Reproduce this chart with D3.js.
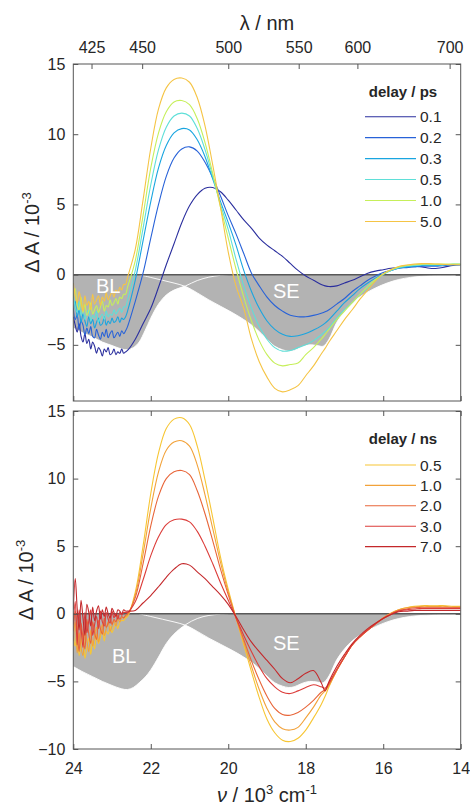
<!DOCTYPE html>
<html><head><meta charset="utf-8">
<script src="https://cdn.jsdelivr.net/npm/d3@7"></script>
<style>
body{margin:0;background:#fff}
svg{display:block}
text{font-family:"Liberation Sans",Arial,Helvetica,sans-serif;fill:#262626}
</style>
</head><body>
<svg id="c" width="470" height="807"></svg>
<script>
// wavenumber grid (10^3 cm^-1)
const nu = [24.00,23.95,23.90,23.85,23.80,23.75,23.70,23.65,23.60,23.55,23.50,23.45,23.40,23.35,23.30,23.25,23.20,23.15,23.10,23.05,23.00,22.95,22.90,22.85,22.80,22.75,22.70,22.65,
  22.6,22.4,22.2,22.0,21.8,21.6,21.4,21.2,21.0,20.8,20.6,20.4,20.2,20.0,19.8,19.6,19.4,19.2,19.0,18.8,18.6,18.4,18.2,18.0,
  17.8,17.6,17.5,17.4,17.2,
  17.0,16.8,16.6,16.4,16.2,16.0,15.8,15.6,15.4,15.2,15.0,14.8,14.6,14.4,14.2,14.0];

// top panel: delay / ps
const ps01 = [-3.0,-3.6,-4.1,-3.5,-4.4,-4.8,-4.2,-4.9,-4.6,-5.3,-4.8,-5.1,-5.6,-5.2,-5.4,-5.8,-5.3,-5.5,-5.2,-5.7,-5.6,-5.3,-5.7,-5.5,-5.6,-5.3,-5.6,-5.5,
  -5.4,-4.6,-3.5,-2.4,-0.9,0.7,2.2,3.7,4.9,5.7,6.15,6.2,5.9,5.3,4.6,3.9,3.3,2.6,2.1,1.7,1.3,0.8,0.3,-0.1,
  -0.4,-0.7,-0.8,-0.85,-0.8,
  -0.6,-0.4,-0.15,0.1,0.25,0.35,0.45,0.5,0.55,0.6,0.55,0.45,0.45,0.55,0.65,0.7];
const ps02 = [-2.4,-3.2,-2.9,-3.9,-3.3,-3.6,-4.3,-3.8,-4.2,-3.7,-4.4,-4.5,-3.9,-4.3,-4.6,-4.1,-4.4,-3.9,-4.5,-4.2,-4.0,-4.5,-4.3,-4.1,-4.4,-4.0,-4.2,-4.0,
  -3.7,-1.9,0.1,2.6,5.0,7.0,8.3,8.95,9.1,8.8,8.0,6.9,5.6,4.2,2.9,1.5,0.1,-0.8,-1.6,-2.2,-2.6,-2.9,-3.0,-3.0,
  -2.9,-2.75,-2.65,-2.5,-2.1,
  -1.7,-1.2,-0.8,-0.4,-0.1,0.15,0.3,0.45,0.5,0.55,0.6,0.6,0.6,0.65,0.7,0.7];
const ps03 = [-2.6,-1.9,-3.0,-2.5,-3.4,-2.8,-3.3,-3.7,-3.0,-3.5,-3.2,-3.8,-3.4,-3.1,-3.6,-3.5,-3.0,-3.6,-3.3,-3.5,-3.1,-3.4,-3.3,-3.0,-3.4,-3.1,-3.2,-3.0,
  -2.6,-0.4,2.4,5.2,7.6,9.2,10.1,10.4,10.3,9.6,8.4,6.8,5.2,3.7,2.1,0.3,-1.2,-2.4,-3.3,-3.9,-4.25,-4.4,-4.35,-4.2,
  -3.95,-3.65,-3.45,-3.2,-2.6,
  -2.0,-1.5,-1.0,-0.6,-0.25,0.05,0.3,0.45,0.55,0.6,0.65,0.65,0.65,0.7,0.7,0.7];
const ps05 = [-1.4,-2.3,-2.7,-1.9,-2.9,-2.4,-3.2,-2.7,-2.5,-3.3,-2.9,-3.1,-2.6,-3.4,-3.0,-2.8,-3.2,-2.6,-3.0,-2.8,-2.9,-2.5,-2.8,-2.6,-2.4,-2.7,-2.3,-2.3,
  -1.8,0.3,3.3,6.4,8.9,10.5,11.3,11.5,11.3,10.4,8.9,7.0,5.0,3.2,1.1,-0.8,-2.4,-3.7,-4.6,-5.2,-5.45,-5.4,-5.2,-5.0,
  -4.7,-4.3,-4.05,-3.8,-3.1,
  -2.5,-2.0,-1.4,-0.9,-0.4,0.0,0.3,0.5,0.6,0.65,0.7,0.7,0.7,0.7,0.75,0.75];
const ps10 = [-1.7,-1.0,-2.2,-2.5,-1.6,-2.7,-2.1,-2.9,-2.6,-2.0,-2.8,-2.5,-2.2,-2.7,-2.3,-1.9,-2.6,-2.2,-2.3,-1.8,-2.2,-2.0,-1.7,-2.1,-1.6,-1.7,-1.4,-1.4,
  -0.9,1.0,4.2,7.6,10.1,11.6,12.3,12.4,12.1,11.1,9.4,7.2,4.8,2.6,0.4,-1.6,-3.3,-4.7,-5.7,-6.3,-6.5,-6.4,-6.3,-5.7,
  -5.2,-4.6,-4.25,-3.9,-3.2,
  -2.6,-2.0,-1.4,-0.85,-0.35,0.05,0.35,0.55,0.65,0.7,0.75,0.75,0.75,0.75,0.75,0.75];
const ps50 = [-0.6,-1.5,-2.0,-1.2,-1.9,-2.6,-1.5,-2.2,-1.9,-2.5,-1.4,-2.1,-1.8,-1.5,-2.2,-1.6,-1.9,-1.3,-1.8,-1.5,-1.2,-1.6,-1.1,-1.3,-0.9,-1.1,-0.7,-0.7,
  -0.2,1.8,5.3,9.0,11.8,13.3,13.9,14.0,13.7,12.6,10.6,7.8,4.8,1.6,-0.8,-2.4,-4.6,-6.2,-7.3,-8.1,-8.35,-8.2,-7.9,-7.2,
  -6.5,-5.65,-5.25,-4.8,-4.0,
  -3.2,-2.5,-1.75,-1.1,-0.45,0.05,0.35,0.58,0.68,0.75,0.78,0.78,0.75,0.72,0.7,0.7];

// bottom panel: delay / ns
const ns05 = [-1.6,-2.4,-0.9,-3.1,-2.2,-1.5,-3.3,-2.5,-1.8,-3.0,-2.0,-2.6,-1.5,-2.2,-1.7,-1.2,-2.0,-1.3,-1.5,-0.9,-1.4,-1.0,-0.7,-1.1,-0.6,-0.5,-0.5,-0.3,
  -0.2,1.6,5.0,8.9,11.9,13.7,14.4,14.5,14.0,12.4,9.9,7.1,4.2,1.8,-0.3,-2.3,-4.3,-6.2,-7.8,-8.8,-9.35,-9.45,-9.2,-8.6,
  -7.7,-6.7,-6.1,-5.4,-4.2,
  -3.2,-2.3,-1.7,-1.2,-0.75,-0.3,0.05,0.3,0.45,0.55,0.6,0.6,0.6,0.6,0.55,0.55];
const ns10 = [-2.0,-0.6,-2.9,-1.4,-2.5,-3.1,-1.3,-2.0,-2.8,-1.2,-2.4,-1.6,-1.0,-2.1,-1.4,-0.8,-1.6,-1.1,-0.6,-1.3,-0.9,-0.5,-0.9,-0.4,-0.6,-0.3,-0.3,-0.2,
  -0.1,1.4,4.4,7.8,10.5,12.1,12.7,12.8,12.4,11.0,8.8,6.3,3.8,1.6,-0.3,-2.1,-3.9,-5.6,-7.0,-8.0,-8.5,-8.6,-8.4,-7.7,
  -6.9,-6.0,-5.7,-5.3,-4.2,
  -3.2,-2.3,-1.7,-1.2,-0.75,-0.3,0.05,0.3,0.45,0.5,0.55,0.55,0.55,0.55,0.5,0.5];
const ns20 = [-1.3,0.2,-1.2,-2.8,-0.7,-1.8,-2.6,-0.4,-1.5,-2.2,-0.6,-1.4,-1.9,-0.5,-1.1,-1.5,-0.3,-1.0,-0.7,-0.2,-0.8,-0.4,-0.6,-0.1,-0.4,-0.2,-0.3,-0.1,
  0.0,1.2,3.7,6.5,8.7,10.0,10.5,10.6,10.3,9.1,7.4,5.4,3.3,1.4,-0.3,-1.9,-3.5,-4.9,-6.1,-7.0,-7.45,-7.5,-7.3,-6.9,
  -6.4,-5.8,-5.6,-5.2,-4.2,
  -3.2,-2.3,-1.7,-1.2,-0.75,-0.3,0.0,0.25,0.35,0.45,0.45,0.45,0.45,0.45,0.45,0.45];
const ns30 = [-0.8,0.9,-2.3,0.3,-1.0,-2.5,0.1,-1.4,-0.5,0.3,-1.6,-0.8,-0.2,-1.1,0.2,-0.6,-0.9,0.1,-0.4,-0.7,0.2,-0.3,0.0,-0.4,0.1,-0.1,0.1,0.1,
  0.1,0.9,2.5,4.3,5.7,6.6,6.95,7.0,6.8,6.1,5.0,3.7,2.3,1.0,-0.3,-1.6,-2.8,-3.9,-4.8,-5.4,-5.8,-5.9,-5.7,-5.45,
  -5.25,-5.4,-5.5,-5.1,-4.1,
  -3.2,-2.3,-1.7,-1.2,-0.75,-0.35,-0.05,0.2,0.3,0.35,0.4,0.4,0.4,0.4,0.4,0.4];
const ns70 = [0.3,2.6,0.4,-1.2,1.0,-0.3,-1.6,0.7,0.1,-0.9,0.5,-0.5,0.2,0.6,-0.4,0.3,-0.2,0.5,0.0,-0.3,0.4,0.1,-0.2,0.3,0.2,0.0,0.3,0.2,
  0.2,0.25,0.8,1.35,2.0,2.7,3.3,3.7,3.6,3.1,2.6,2.0,1.4,0.7,-0.2,-1.2,-2.1,-2.8,-3.45,-4.1,-4.8,-5.1,-4.8,-4.4,
  -4.2,-5.1,-5.7,-5.0,-3.9,
  -3.0,-2.2,-1.6,-1.1,-0.7,-0.35,-0.05,0.15,0.2,0.25,0.25,0.25,0.25,0.25,0.25,0.25];

const psLabels = ["0.1","0.2","0.3","0.5","1.0","5.0"];
const nsLabels = ["0.5","1.0","2.0","3.0","7.0"];
const psColors = ["#2b2f9e","#2862d8","#19a5e0","#5fdfd8","#c6ef5a","#f5c445"];
const nsColors = ["#f7c634","#f2a23a","#e8663a","#dc3d3a","#c4282b"];

// ground-state bleach (BL) and stimulated emission (SE) references
const blNu = [24.0,23.75,23.5,23.25,23.0,22.75,22.6,22.45,22.3,22.15,22.0,21.8,21.6,21.4,21.1,20.8,20.5,20.2,20.0];
const blTop = [-3.8,-4.15,-4.45,-4.8,-5.05,-5.3,-5.35,-5.2,-4.8,-4.0,-3.1,-2.1,-1.45,-1.1,-0.8,-0.42,-0.18,-0.05,0];
const blBottom = [-3.9,-4.3,-4.65,-5.0,-5.3,-5.55,-5.6,-5.45,-5.1,-4.7,-4.15,-3.2,-2.2,-1.5,-0.8,-0.35,-0.12,-0.03,0];
const seNu = [22.3,22.0,21.7,21.4,21.1,20.8,20.5,20.2,19.9,19.6,19.3,19.0,18.8,18.6,18.45,18.3,18.1,17.9,17.7,17.55,17.4,17.2,17.0,16.8,16.5,16.2,15.9,15.6,15.3,15.0,14.5,14.0];
const seVal = [0,-0.2,-0.4,-0.6,-0.85,-1.3,-1.8,-2.25,-2.7,-3.2,-3.8,-4.6,-5.1,-5.35,-5.45,-5.4,-5.15,-5.0,-5.05,-5.1,-4.6,-3.4,-2.6,-2.0,-1.4,-0.95,-0.6,-0.35,-0.2,-0.12,-0.05,-0.02];

const nuTicks = [24,22,20,18,16,14];
const lambdaTicks = [425,450,500,550,600,700];
const yTicksTop = [-5,0,5,10,15];
const yTicksBottom = [-10,-5,0,5,10,15];

const svg = d3.select("#c");
const L = 73.3, R = 460.7;
const x = d3.scaleLinear().domain([24,14]).range([L,R]);
const AX = "#555";

function panel(opt){
  const y = d3.scaleLinear().domain(opt.yDomain).range([opt.bottom, opt.top]);
  const g = svg.append("g");
  const cid = "clip" + opt.id;
  svg.append("defs").append("clipPath").attr("id", cid)
    .append("rect").attr("x", L).attr("y", opt.top).attr("width", R - L).attr("height", opt.bottom - opt.top);
  const pg = g.append("g").attr("clip-path", `url(#${cid})`);

  const blData = blNu.map((v,i)=>[v, opt.bl[i]]);
  const seData = seNu.map((v,i)=>[v, seVal[i]]);
  const area = d3.area().x(d=>x(d[0])).y0(y(0)).y1(d=>y(d[1])).curve(d3.curveCatmullRom);
  const edge = d3.line().x(d=>x(d[0])).y(d=>y(d[1])).curve(d3.curveCatmullRom);
  pg.append("path").attr("d", area(blData)).attr("fill", "#b3b3b3");
  pg.append("path").attr("d", area(seData)).attr("fill", "#b3b3b3");
  pg.append("path").attr("d", edge(blData)).attr("fill", "none").attr("stroke", "#fff").attr("stroke-width", 0.9);
  pg.append("path").attr("d", edge(seData)).attr("fill", "none").attr("stroke", "#fff").attr("stroke-width", 0.9);

  pg.append("line").attr("x1", L).attr("x2", R).attr("y1", y(0)).attr("y2", y(0))
    .attr("stroke", "#595959").attr("stroke-width", 1.5);

  const line = d3.line().x(d=>x(d[0])).y(d=>y(d[1])).curve(d3.curveCatmullRom);
  opt.series.forEach((s, k) => {
    pg.append("path").attr("d", line(nu.map((v,i)=>[v, s[i]])))
      .attr("fill", "none").attr("stroke", opt.colors[k]).attr("stroke-width", 1.1);
  });

  // labels BL / SE
  g.append("text").attr("x", opt.blPos[0]).attr("y", opt.blPos[1]).attr("font-size", 20).style("fill", "#fff").text("BL");
  g.append("text").attr("x", opt.sePos[0]).attr("y", opt.sePos[1]).attr("font-size", 20).style("fill", "#fff").text("SE");

  // axes
  const styleAx = sel => { sel.select(".domain").remove(); sel.selectAll("line").attr("stroke", AX); sel.selectAll("text").attr("font-size", 16).style("fill", "#262626").attr("font-family", null); };
  const left = g.append("g").attr("transform", `translate(${L},0)`)
    .call(d3.axisLeft(y).tickValues(opt.yTicks).tickSize(-5).tickPadding(8).tickFormat(d3.format("d")));
  styleAx(left);
  const right = g.append("g").attr("transform", `translate(${R},0)`)
    .call(d3.axisRight(y).tickValues(opt.yTicks).tickSize(-5).tickFormat(""));
  styleAx(right);
  const bot = g.append("g").attr("transform", `translate(0,${opt.bottom})`)
    .call(d3.axisBottom(x).tickValues(nuTicks).tickSize(-5).tickPadding(13.5).tickFormat(opt.isTop ? "" : d3.format("d")));
  styleAx(bot);
  if (opt.isTop) {
    const top = g.append("g").attr("transform", `translate(0,${opt.top})`)
      .call(d3.axisTop(x).tickValues(lambdaTicks.map(l => 1e4 / l)).tickSize(-5).tickPadding(11)
        .tickFormat((d,i) => lambdaTicks[i]));
    styleAx(top);
  } else {
    const top = g.append("g").attr("transform", `translate(0,${opt.top})`)
      .call(d3.axisTop(x).tickValues(nuTicks).tickSize(-5).tickFormat(""));
    styleAx(top);
  }
  g.append("rect").attr("x", L).attr("y", opt.top).attr("width", R - L).attr("height", opt.bottom - opt.top)
    .attr("fill", "none").attr("stroke", AX).attr("stroke-width", 1);

  // y title
  const yt = g.append("text").attr("transform", `translate(${opt.yTitleX},${(opt.top + opt.bottom) / 2}) rotate(-90)`)
    .attr("text-anchor", "middle").attr("font-size", 20);
  yt.append("tspan").text("Δ A / 10");
  yt.append("tspan").attr("dy", -8).attr("font-size", 13).text("-3");

  // legend
  const lg = g.append("g");
  lg.append("text").attr("x", 403).attr("y", opt.legTop).attr("text-anchor", "middle")
    .attr("font-size", 15).attr("font-weight", "bold").text(opt.legendTitle);
  opt.labels.forEach((lab, k) => {
    const yy = opt.legTop + opt.legFirst + k * opt.legStep;
    lg.append("line").attr("x1", 365).attr("x2", 416).attr("y1", yy).attr("y2", yy)
      .attr("stroke", opt.colors[k]).attr("stroke-width", 1.1);
    lg.append("text").attr("x", 420).attr("y", yy + 5.5).attr("font-size", 15.5).text(lab);
  });
}

panel({id: "t", top: 64, bottom: 401, yDomain: [-9, 15], yTicks: yTicksTop,
  series: [ps01, ps02, ps03, ps05, ps10, ps50], colors: psColors, labels: psLabels,
  legendTitle: "delay / ps", legTop: 97, legFirst: 19.7, legStep: 20.95,
  bl: blTop, blPos: [96, 293], sePos: [273, 298], yTitleX: 39, isTop: true});

panel({id: "b", top: 411, bottom: 749, yDomain: [-10, 15], yTicks: yTicksBottom,
  series: [ns05, ns10, ns20, ns30, ns70], colors: nsColors, labels: nsLabels,
  legendTitle: "delay / ns", legTop: 444, legFirst: 21, legStep: 20.4,
  bl: blBottom, blPos: [112, 663], sePos: [273, 650], yTitleX: 33, isTop: false});

// top title
svg.append("text").attr("x", 267).attr("y", 30).attr("text-anchor", "middle").attr("font-size", 20).text("λ / nm");
// bottom title
const bt = svg.append("text").attr("x", 267).attr("y", 802).attr("text-anchor", "middle").attr("font-size", 20);
bt.append("tspan").attr("font-style", "italic").text("ν");
bt.append("tspan").text(" / 10");
bt.append("tspan").attr("dy", -8).attr("font-size", 13).text("3");
bt.append("tspan").attr("dy", 8).text(" cm");
bt.append("tspan").attr("dy", -8).attr("font-size", 13).text("-1");
</script>
</body></html>
